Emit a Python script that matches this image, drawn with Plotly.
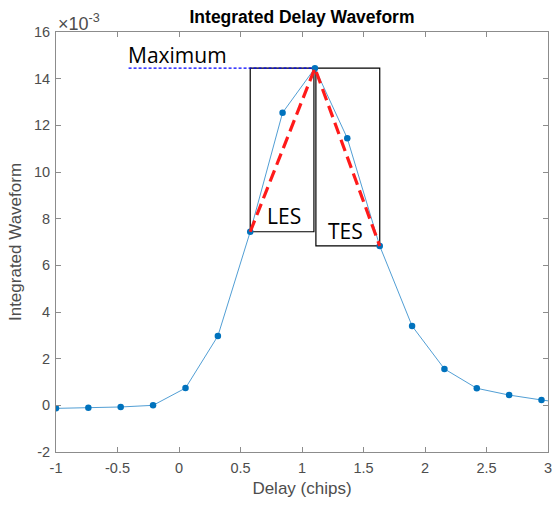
import plotly.graph_objects as go

# ---- data (y in units of 1e-3) ----
delay = [-1.0, -0.737, -0.474, -0.211, 0.053, 0.316, 0.579, 0.842, 1.105,
         1.368, 1.632, 1.895, 2.158, 2.421, 2.684, 2.947, 3.211]
waveform = [-0.13, -0.10, -0.07, 0.0, 0.74, 2.97, 7.44, 12.54, 14.45,
            11.45, 6.83, 3.40, 1.56, 0.73, 0.44, 0.23, 0.05]
x_ticks = [-1, -0.5, 0, 0.5, 1, 1.5, 2, 2.5, 3]
x_tick_labels = ["-1", "-0.5", "0", "0.5", "1", "1.5", "2", "2.5", "3"]
y_ticks = [-2, 0, 2, 4, 6, 8, 10, 12, 14, 16]
y_tick_labels = ["-2", "0", "2", "4", "6", "8", "10", "12", "14", "16"]
max_line_start = -0.41
i_les, i_peak, i_tes = 6, 8, 10

AX = "#8c8c8c"
TXT = "#4d4d4d"
FONT = "Liberation Sans, Arial, sans-serif"
ANN_FONT = "Open Sans, Noto Sans, sans-serif"

fig = go.Figure()

xp, yp = delay[i_peak], waveform[i_peak]
xl, yl = delay[i_les], waveform[i_les]
xt, yt = delay[i_tes], waveform[i_tes]
gap = 0.008

# boxes
fig.add_shape(type="rect", x0=xl, x1=xp - gap, y0=yl, y1=yp,
              line=dict(color="black", width=1.2), layer="below")
fig.add_shape(type="rect", x0=xp + gap, x1=xt, y0=yt, y1=yp,
              line=dict(color="black", width=1.2), layer="below")

# maximum dashed line
fig.add_trace(go.Scatter(x=[max_line_start, xp], y=[yp, yp], mode="lines",
                         line=dict(color="#0000ff", width=1.3, dash="3px,2px"),
                         hoverinfo="skip", showlegend=False))

# data
fig.add_trace(go.Scatter(x=delay, y=waveform, mode="lines+markers",
                         line=dict(color="#3d93cf", width=0.9),
                         marker=dict(color="#0072BD", size=6.5),
                         showlegend=False))

# red dashed edges
fig.add_trace(go.Scatter(x=[xl, xp, xt], y=[yl, yp, yt], mode="lines",
                         line=dict(color="#ff1a1a", width=3.2, dash="12px,6px"),
                         hoverinfo="skip", showlegend=False))

fig.add_annotation(x=-0.435, y=15.0, text="Maximum", showarrow=False,
                   xanchor="left", yanchor="middle",
                   font=dict(family=ANN_FONT, size=21, color="black"))
fig.add_annotation(x=0.70, y=8.12, text="LES", showarrow=False,
                   xanchor="left", yanchor="middle",
                   font=dict(family=ANN_FONT, size=21, color="black"))
fig.add_annotation(x=1.195, y=7.47, text="TES", showarrow=False,
                   xanchor="left", yanchor="middle",
                   font=dict(family=ANN_FONT, size=21, color="black"))

# exponent label
fig.add_annotation(xref="paper", yref="paper", x=0.0, y=1.0,
                   text="×10<sup>-3</sup>", showarrow=False,
                   xanchor="left", yanchor="bottom", yshift=-4,
                   font=dict(family=FONT, size=18, color=TXT))

fig.update_layout(
    width=556, height=506,
    margin=dict(l=56, r=8, t=32, b=54, autoexpand=False),
    paper_bgcolor="white", plot_bgcolor="white",
    title=dict(text="<b>Integrated Delay Waveform</b>", x=0.5, xref="paper",
               xanchor="center", y=1 - 17 / 506, yanchor="middle",
               font=dict(family=FONT, size=17.5, color="black")),
    font=dict(family=FONT, size=14, color=TXT),
)
fig.update_xaxes(range=[-1, 3], tickvals=x_ticks, ticktext=x_tick_labels,
                 automargin=False, ticklabelstandoff=3,
                 showgrid=False, zeroline=False, showline=True, linecolor=AX,
                 linewidth=1, mirror="ticks", ticks="inside", ticklen=5,
                 tickcolor=AX, tickfont=dict(size=14.5, color=TXT),
                 title=dict(text="Delay (chips)", font=dict(size=17, color=TXT),
                            standoff=6))
fig.update_yaxes(range=[-2, 16], tickvals=y_ticks, ticktext=y_tick_labels,
                 automargin=False, ticklabelstandoff=2,
                 showgrid=False, zeroline=False, showline=True, linecolor=AX,
                 linewidth=1, mirror="ticks", ticks="inside", ticklen=5,
                 tickcolor=AX, tickfont=dict(size=14.5, color=TXT),
                 title=dict(text="Integrated Waveform", font=dict(size=17, color=TXT),
                            standoff=8))

fig.write_html("out.html")
